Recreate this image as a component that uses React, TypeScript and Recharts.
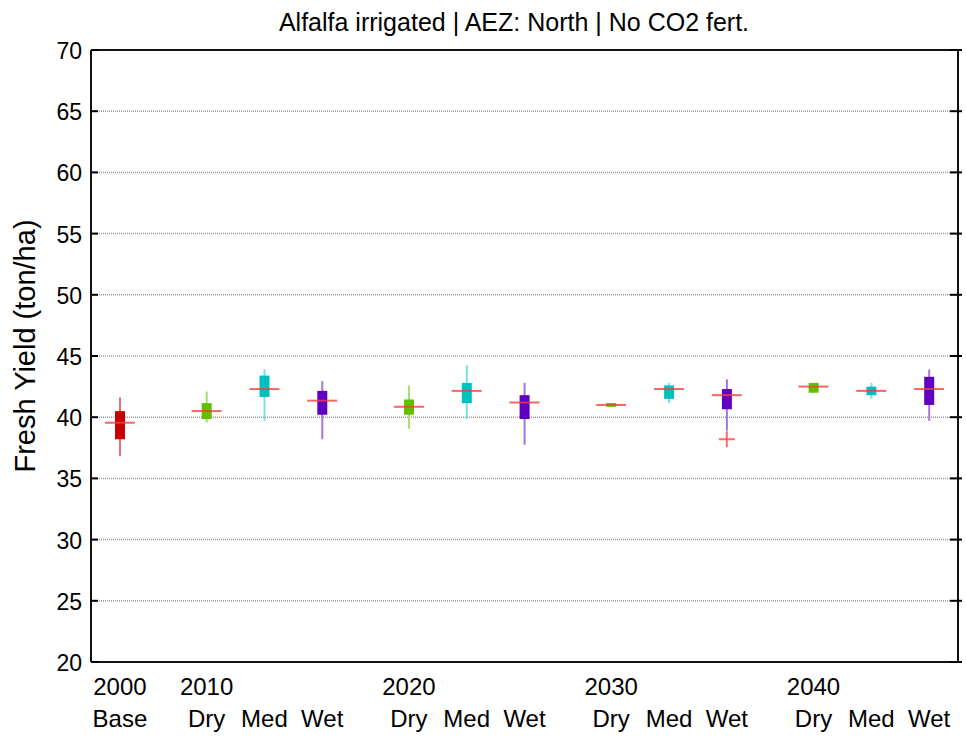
import React from "react";
import {
  ComposedChart,
  Bar,
  Scatter,
  XAxis,
  YAxis,
  CartesianGrid,
  Cell,
} from "recharts";

const positions = [1, 2.5, 3.5, 4.5, 6, 7, 8, 9.5, 10.5, 11.5, 13, 14, 15];
const scenarios = ["Base", "Dry", "Med", "Wet", "Dry", "Med", "Wet", "Dry", "Med", "Wet", "Dry", "Med", "Wet"];
const yearLabels = ["2000", "2010", "", "", "2020", "", "", "2030", "", "", "2040", "", ""];
const whiskerLow = [36.8, 39.55, 39.7, 38.2, 39.05, 39.85, 37.75, 40.85, 41.15, 38.9, 42.0, 41.5, 39.7];
const quart1 = [38.2, 39.85, 41.65, 40.2, 40.2, 41.15, 39.85, 40.85, 41.5, 40.65, 42.0, 41.8, 41.0];
const medians = [39.55, 40.5, 42.3, 41.35, 40.85, 42.15, 41.2, 41.0, 42.3, 41.8, 42.5, 42.15, 42.3];
const quart3 = [40.5, 41.15, 43.4, 42.15, 41.45, 42.8, 41.8, 41.15, 42.6, 42.3, 42.8, 42.5, 43.3];
const whiskerHigh = [41.6, 42.1, 43.9, 42.95, 42.6, 44.25, 42.8, 41.15, 42.8, 43.1, 42.8, 42.8, 43.9];
const outlierPos = [11.5];
const outlierVal = [38.2];
const yTicks = [20, 25, 30, 35, 40, 45, 50, 55, 60, 65, 70];

const boxColors: Record<string, string> = {
  Base: "#c80000",
  Dry: "#60c000",
  Med: "#00c0c0",
  Wet: "#6000c0",
};
const whiskerColors: Record<string, string> = {
  Base: "#ea6a6a",
  Dry: "#a6e070",
  Med: "#74e2e2",
  Wet: "#a874e0",
};

const data = positions.map((pos, i) => ({
  pos,
  scen: scenarios[i],
  lo: whiskerLow[i],
  q1: quart1[i],
  med: medians[i],
  q3: quart3[i],
  hi: whiskerHigh[i],
}));
const outliers = outlierPos.map((pos, i) => ({ pos, val: outlierVal[i] }));

const FONT = "'Liberation Sans', Arial, Helvetica, sans-serif";

const XTick = (props: any) => {
  const { x, y, index } = props;
  return (
    <g>
      {yearLabels[index] ? (
        <text x={x} y={y + 33} textAnchor="middle" fontSize={24} fontFamily={FONT} fill="#000">
          {yearLabels[index]}
        </text>
      ) : null}
      <text x={x} y={y + 65} textAnchor="middle" fontSize={24} fontFamily={FONT} fill="#000">
        {scenarios[index]}
      </text>
    </g>
  );
};

const YTickLeft = (props: any) => {
  const { x, y, payload } = props;
  return (
    <g>
      <line x1={x + 9} x2={x + 16} y1={y} y2={y} stroke="#000" strokeWidth={2} />
      <text x={x} y={y + 9} textAnchor="end" fontSize={23} fontFamily={FONT} fill="#000">
        {payload.value}
      </text>
    </g>
  );
};

const YTickRight = (props: any) => {
  const { x, y } = props;
  return <line x1={x - 8} x2={x + 4} y1={y} y2={y} stroke="#000" strokeWidth={2} />;
};

const MedianShape = (props: any) => {
  const { cx, cy } = props;
  return <line x1={cx - 15} x2={cx + 15} y1={cy} y2={cy} stroke="#ef4040" strokeOpacity={0.8} strokeWidth={2} />;
};

const OutlierShape = (props: any) => {
  const { cx, cy } = props;
  return (
    <g stroke="#ff5050" strokeOpacity={0.85} strokeWidth={2}>
      <line x1={cx - 8} x2={cx + 8} y1={cy} y2={cy} />
      <line x1={cx} x2={cx} y1={cy - 8} y2={cy + 8} />
    </g>
  );
};

export default function App() {
  return (
    <div style={{ position: "absolute", left: 0, top: 0, background: "#fff" }}>
      <ComposedChart
        width={966}
        height={737}
        data={data}
        margin={{ top: 49, right: 7, bottom: 0, left: 0 }}
      >
        <CartesianGrid
          horizontal={true}
          vertical={false}
          stroke="#9a9a9a"
          strokeDasharray="1 1"
          strokeWidth={1.5}
        />
        <XAxis
          dataKey="pos"
          type="number"
          domain={[0.5, 15.5]}
          ticks={positions}
          interval={0}
          height={75}
          tickLine={false}
          tickSize={0}
          tickMargin={0}
          tick={<XTick />}
          axisLine={{ stroke: "#111", strokeWidth: 2 }}
          allowDataOverflow
        />
        <XAxis
          xAxisId="top"
          orientation="top"
          dataKey="pos"
          type="number"
          domain={[0.5, 15.5]}
          height={1}
          tick={false}
          tickLine={false}
          axisLine={{ stroke: "#111", strokeWidth: 2 }}
          allowDataOverflow
        />
        <XAxis xAxisId="w" dataKey="pos" type="number" domain={[0.5, 15.5]} hide allowDataOverflow />
        <XAxis xAxisId="b" dataKey="pos" type="number" domain={[0.5, 15.5]} hide allowDataOverflow />
        <YAxis
          type="number"
          domain={[20, 70]}
          ticks={yTicks}
          interval={0}
          width={91}
          tickLine={false}
          tickSize={0}
          tickMargin={9}
          tick={<YTickLeft />}
          axisLine={{ stroke: "#111", strokeWidth: 2 }}
          allowDataOverflow
        />
        <YAxis
          yAxisId="r"
          orientation="right"
          type="number"
          domain={[20, 70]}
          ticks={yTicks}
          interval={0}
          width={1}
          tickLine={false}
          tickSize={0}
          tickMargin={0}
          tick={<YTickRight />}
          axisLine={{ stroke: "#111", strokeWidth: 2 }}
          allowDataOverflow
        />
        <Bar xAxisId="w" dataKey={(d: any) => [d.lo, d.hi]} barSize={2} isAnimationActive={false}>
          {data.map((d, i) => (
            <Cell key={`w${i}`} fill={whiskerColors[d.scen]} />
          ))}
        </Bar>
        <Bar xAxisId="b" dataKey={(d: any) => [d.q1, d.q3]} barSize={10} isAnimationActive={false}>
          {data.map((d, i) => (
            <Cell key={`b${i}`} fill={boxColors[d.scen]} />
          ))}
        </Bar>
        <Scatter dataKey="med" shape={<MedianShape />} isAnimationActive={false} />
        <Scatter data={outliers} dataKey="val" shape={<OutlierShape />} isAnimationActive={false} />
        <text x={514} y={31} textAnchor="middle" fontSize={25} fontFamily={FONT} fill="#000">
          Alfalfa irrigated | AEZ: North | No CO2 fert.
        </text>
        <text
          x={35}
          y={346}
          textAnchor="middle"
          fontSize={29}
          fontFamily={FONT}
          fill="#000"
          transform="rotate(-90 35 346)"
        >
          Fresh Yield (ton/ha)
        </text>
      </ComposedChart>
    </div>
  );
}
